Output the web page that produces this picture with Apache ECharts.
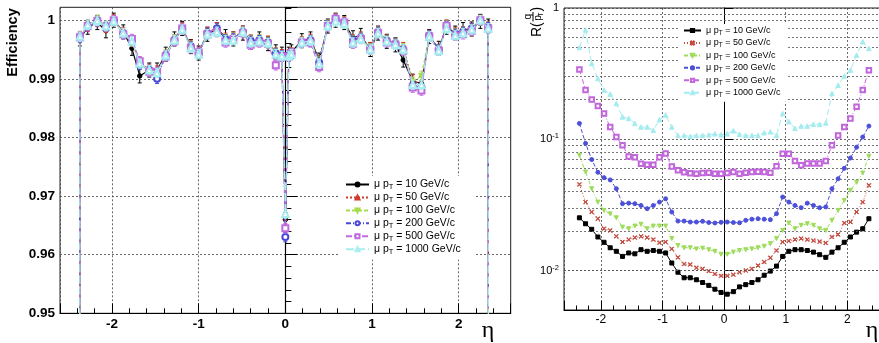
<!DOCTYPE html>
<html><head><meta charset="utf-8">
<script src="https://cdn.jsdelivr.net/npm/echarts@6/dist/echarts.min.js"></script>
<style>html,body{margin:0;padding:0;background:#fff}#c{width:879px;height:343px}</style>
</head><body><div id="c"></div>
<script>
// ---------- DATA ----------
const ptLabels = ['10', '50', '100', '200', '500', '1000'];

// Left panel: efficiency vs eta
const etaL = [-2.40, -2.37, -2.28, -2.17, -2.07, -1.98, -1.87, -1.77, -1.68, -1.57,
  -1.48, -1.38, -1.28, -1.19, -1.09, -1.00, -0.90, -0.79, -0.69, -0.60,
  -0.49, -0.40, -0.30, -0.20, -0.11, -0.04, 0.00, 0.04, 0.07, 0.19,
  0.29, 0.39, 0.49, 0.58, 0.68, 0.78, 0.87, 0.98, 1.07, 1.17,
  1.27, 1.36, 1.47, 1.57, 1.66, 1.77, 1.86, 1.96, 2.05, 2.15,
  2.25, 2.34, 2.40];
const effL10 = [0, 0.9968, 0.9988, 0.9996, 0.9982, 1.0000, 0.9980, 0.9952, 0.9905, 0.9915,
  0.9915, 0.9942, 0.9968, 0.9986, 0.9955, 0.9944, 0.9976, 0.9984, 0.9972, 0.9968,
  0.9978, 0.9962, 0.9968, 0.9960, 0.9946, 0.9942, 0.9660, 0.9942, 0.9946, 0.9965,
  0.9968, 0.9932, 0.9990, 1.0000, 0.9996, 0.9970, 0.9974, 0.9950, 0.9978, 0.9964,
  0.9958, 0.9932, 0.9896, 0.9892, 0.9972, 0.9952, 0.9988, 0.9978, 0.9984, 0.9985,
  0.9998, 0.9990, 0];
const effL50 = [0, 0.9972, 0.9990, 0.9998, 0.9988, 1.0001, 0.9979, 0.9964, 0.9928, 0.9916,
  0.9913, 0.9940, 0.9966, 0.9987, 0.9957, 0.9945, 0.9979, 0.9987, 0.9969, 0.9971,
  0.9981, 0.9966, 0.9966, 0.9964, 0.9944, 0.9941, 0.9650, 0.9941, 0.9944, 0.9963,
  0.9967, 0.9930, 0.9991, 1.0002, 0.9997, 0.9966, 0.9971, 0.9953, 0.9980, 0.9966,
  0.9960, 0.9953, 0.9898, 0.9888, 0.9974, 0.9950, 0.9991, 0.9979, 0.9980, 0.9986,
  1.0000, 0.9988, 0];
const effL100 = [0, 0.9970, 0.9991, 1.0001, 0.9990, 1.0000, 0.9978, 0.9966, 0.9925, 0.9914,
  0.9910, 0.9941, 0.9967, 0.9986, 0.9956, 0.9944, 0.9978, 0.9986, 0.9968, 0.9970,
  0.9980, 0.9966, 0.9967, 0.9963, 0.9944, 0.9940, 0.9640, 0.9940, 0.9944, 0.9963,
  0.9966, 0.9929, 0.9992, 1.0002, 0.9997, 0.9966, 0.9970, 0.9952, 0.9980, 0.9966,
  0.9961, 0.9952, 0.9895, 0.9905, 0.9974, 0.9950, 0.9991, 0.9978, 0.9980, 0.9986,
  1.0000, 0.9988, 0];
const effL200 = [0, 0.9970, 0.9990, 0.9998, 0.9990, 1.0000, 0.9977, 0.9966, 0.9924, 0.9915,
  0.9900, 0.9940, 0.9966, 0.9985, 0.9955, 0.9943, 0.9978, 0.9986, 0.9967, 0.9969,
  0.9980, 0.9965, 0.9966, 0.9962, 0.9943, 0.9940, 0.9630, 0.9940, 0.9943, 0.9962,
  0.9966, 0.9928, 0.9991, 1.0002, 0.9996, 0.9965, 0.9970, 0.9951, 0.9980, 0.9965,
  0.9960, 0.9950, 0.9888, 0.9885, 0.9974, 0.9950, 0.9990, 0.9977, 0.9980, 0.9986,
  1.0000, 0.9988, 0];
const effL500 = [0, 0.9971, 0.9990, 0.9998, 0.9989, 1.0000, 0.9976, 0.9968, 0.9930, 0.9912,
  0.9912, 0.9938, 0.9964, 0.9986, 0.9952, 0.9945, 0.9976, 0.9980, 0.9962, 0.9968,
  0.9978, 0.9958, 0.9962, 0.9960, 0.9923, 0.9938, 0.9645, 0.9938, 0.9944, 0.9962,
  0.9962, 0.9920, 0.9990, 1.0002, 0.9996, 0.9960, 0.9968, 0.9950, 0.9978, 0.9962,
  0.9958, 0.9948, 0.9885, 0.9880, 0.9972, 0.9948, 0.9990, 0.9974, 0.9976, 0.9982,
  1.0000, 0.9986, 0];
const effL1000 = [0, 0.9972, 0.9992, 0.9999, 0.9990, 0.9998, 0.9978, 0.9964, 0.9926, 0.9915,
  0.9910, 0.9940, 0.9966, 0.9984, 0.9953, 0.9942, 0.9976, 0.9980, 0.9966, 0.9966,
  0.9980, 0.9962, 0.9964, 0.9961, 0.9942, 0.9939, 0.9670, 0.9939, 0.9942, 0.9962,
  0.9965, 0.9926, 0.9990, 0.9998, 0.9994, 0.9962, 0.9968, 0.9950, 0.9978, 0.9964,
  0.9958, 0.9950, 0.9890, 0.9890, 0.9972, 0.9948, 0.9986, 0.9974, 0.9978, 0.9984,
  1.0000, 0.9986, 0];
// typical statistical error (half-width) per series
const errL = [0.0012, 0.0009, 0.0008, 0.0008, 0.0008, 0.0008];

// Right panel: resolution R(q/pT) vs eta (log scale)
const etaR = [-2.35, -2.25, -2.15, -2.05, -1.95, -1.85, -1.75, -1.65, -1.55, -1.45,
  -1.35, -1.25, -1.15, -1.05, -0.95, -0.85, -0.75, -0.65, -0.55, -0.45,
  -0.35, -0.25, -0.15, -0.05, 0.05, 0.15, 0.25, 0.35, 0.45, 0.55,
  0.65, 0.75, 0.85, 0.95, 1.05, 1.15, 1.25, 1.35, 1.45, 1.55,
  1.65, 1.75, 1.85, 1.95, 2.05, 2.15, 2.25, 2.35];
const resR10 = [0.0252, 0.0227, 0.0206, 0.0180, 0.0164, 0.0149, 0.0140, 0.0128, 0.0136, 0.0134,
  0.0144, 0.0140, 0.0142, 0.0140, 0.0136, 0.0114, 0.0097, 0.0088, 0.0088, 0.0085,
  0.0081, 0.0077, 0.0072, 0.0068, 0.0066, 0.0069, 0.0075, 0.0078, 0.0081, 0.0085,
  0.0092, 0.0099, 0.0108, 0.0128, 0.0140, 0.0144, 0.0144, 0.0142, 0.0138, 0.0132,
  0.0126, 0.0138, 0.0149, 0.0164, 0.0180, 0.0196, 0.0208, 0.0248];
const resR50 = [0.0453, 0.0332, 0.0279, 0.0248, 0.0208, 0.0202, 0.0182, 0.0165, 0.0172, 0.0178,
  0.0182, 0.0178, 0.0172, 0.0163, 0.0165, 0.0146, 0.0126, 0.0112, 0.0111, 0.0105,
  0.0103, 0.0099, 0.0094, 0.0091, 0.0091, 0.0093, 0.0097, 0.0100, 0.0103, 0.0109,
  0.0116, 0.0125, 0.0142, 0.0165, 0.0168, 0.0172, 0.0175, 0.0172, 0.0169, 0.0166,
  0.0162, 0.0180, 0.0188, 0.0230, 0.0234, 0.0279, 0.0332, 0.0446];
const resR100 = [0.0755, 0.0563, 0.0420, 0.0332, 0.0287, 0.0270, 0.0252, 0.0214, 0.0208, 0.0218,
  0.0225, 0.0208, 0.0218, 0.0218, 0.0218, 0.0175, 0.0155, 0.0149, 0.0149, 0.0146,
  0.0148, 0.0144, 0.0140, 0.0133, 0.0133, 0.0138, 0.0142, 0.0144, 0.0146, 0.0149,
  0.0153, 0.0160, 0.0175, 0.0202, 0.0230, 0.0208, 0.0221, 0.0227, 0.0221, 0.0208,
  0.0202, 0.0241, 0.0287, 0.0342, 0.0408, 0.0470, 0.0553, 0.0742];
const resR200 = [0.132, 0.093, 0.070, 0.056, 0.051, 0.049, 0.042, 0.0323, 0.0326, 0.0323,
  0.0313, 0.0296, 0.0313, 0.0332, 0.0352, 0.0279, 0.0238, 0.0238, 0.0234, 0.0234,
  0.0237, 0.0232, 0.0230, 0.0233, 0.0234, 0.0232, 0.0231, 0.0241, 0.0246, 0.0248,
  0.0246, 0.0244, 0.0271, 0.0363, 0.0332, 0.0313, 0.0301, 0.0326, 0.0313, 0.0301,
  0.0305, 0.0420, 0.0500, 0.0600, 0.0720, 0.0870, 0.104, 0.126];
const resR500 = [0.340, 0.237, 0.201, 0.179, 0.157, 0.124, 0.104, 0.090, 0.074, 0.073,
  0.065, 0.064, 0.064, 0.073, 0.078, 0.062, 0.058, 0.056, 0.055, 0.0547,
  0.0553, 0.0556, 0.0547, 0.0545, 0.0553, 0.0563, 0.0547, 0.0556, 0.0563, 0.0566,
  0.0563, 0.0556, 0.0622, 0.0777, 0.0777, 0.0684, 0.0633, 0.0652, 0.0652, 0.0652,
  0.0683, 0.090, 0.107, 0.124, 0.144, 0.177, 0.237, 0.336];
const resR1000 = [0.50, 0.68, 0.378, 0.290, 0.237, 0.221, 0.187, 0.148, 0.144, 0.132,
  0.124, 0.124, 0.117, 0.141, 0.153, 0.124, 0.107, 0.107, 0.105, 0.107,
  0.107, 0.108, 0.110, 0.108, 0.110, 0.116, 0.109, 0.107, 0.107, 0.107,
  0.112, 0.114, 0.107, 0.157, 0.136, 0.121, 0.126, 0.126, 0.130, 0.130,
  0.133, 0.223, 0.258, 0.303, 0.336, 0.438, 0.553, 0.492];
const rMinorGrid = [0.006, 0.007, 0.008, 0.009, 0.02, 0.03, 0.04, 0.05, 0.06, 0.07, 0.08, 0.09,
  0.2, 0.3, 0.4, 0.5, 0.6, 0.7, 0.8, 0.9];

// ---------- STYLE ----------
const effL = [effL10, effL50, effL100, effL200, effL500, effL1000];
const resR = [resR10, resR50, resR100, resR200, resR500, resR1000];
const colL = ['#000000', '#d0392b', '#a8dc48', '#4848d8', '#c06ae0', '#a6eef0'];
const colR = ['#000000', '#c44a3e', '#9edc5c', '#4c50d8', '#c266dc', '#a4ecf0'];
const symL = ['circle', 'triangle', 'triangle', 'emptyCircle', 'emptyRect', 'emptyTriangle'];
const rotL = [0, 0, 180, 0, 0, 0];
const sizeL = [4.5, 5.5, 5.5, 6, 6, 6.5];
const dashL = ['solid', [2, 2], [4, 2], [5, 2, 1, 2], [6, 2], [8, 3]];
const xPath = 'path://M0,1L1,0L5,4L9,0L10,1L6,5L10,9L9,10L5,6L1,10L0,9L4,5Z';
const symR = ['rect', xPath, 'triangle', 'circle', 'emptyRect', 'triangle'];
const rotR = [0, 0, 180, 0, 0, 0];
const sizeR = [4, 4, 4, 4, 4.5, 4.5];
const dashR = ['solid', [1, 2], [4, 2, 1, 2], [4, 2], [5, 2, 1, 2], [6, 3]];
const FF = '"Liberation Sans", Arial, sans-serif';

const series = [];
for (let k = 0; k < 6; k++) {
  series.push({
    type: 'line', name: 'L' + k, xAxisIndex: 0, yAxisIndex: 0,
    data: etaL.map((e, i) => [e, effL[k][i]]),
    symbol: symL[k], symbolSize: sizeL[k], symbolRotate: rotL[k], showAllSymbol: true,
    lineStyle: { color: colL[k], width: 1.2, type: dashL[k] },
    itemStyle: { color: colL[k], borderColor: colL[k], borderWidth: 1 },
    clip: true, z: 3 + k, silent: true
  });
}
for (let k = 0; k < 6; k++) {
  series.push({
    type: 'custom', name: 'E' + k, xAxisIndex: 0, yAxisIndex: 0, clip: true, silent: true, z: 3 + k,
    data: etaL.map((e, i) => [e, effL[k][i], errL[k]]).filter(d => d[1] > 0.5),
    encode: { x: 0, y: 1 },
    renderItem: (params, api) => {
      const x = api.value(0), v = api.value(1), er = api.value(2);
      const a = api.coord([x, v - er]), b = api.coord([x, v + er]);
      const st = { stroke: colL[k], lineWidth: 1 };
      return { type: 'group', children: [
        { type: 'line', shape: { x1: a[0], y1: a[1], x2: b[0], y2: b[1] }, style: st },
        { type: 'line', shape: { x1: a[0] - 2, y1: a[1], x2: a[0] + 2, y2: a[1] }, style: st },
        { type: 'line', shape: { x1: b[0] - 2, y1: b[1], x2: b[0] + 2, y2: b[1] }, style: st }
      ] };
    }
  });
}
for (let k = 0; k < 6; k++) {
  const s = {
    type: 'line', name: 'R' + k, xAxisIndex: 1, yAxisIndex: 1,
    data: etaR.map((e, i) => [e, resR[k][i]]),
    symbol: symR[k], symbolSize: sizeR[k], symbolRotate: rotR[k], showAllSymbol: true,
    lineStyle: { color: colR[k], width: 1, type: dashR[k] },
    itemStyle: { color: colR[k], borderColor: colR[k], borderWidth: 1 },
    clip: true, z: 3 + k, silent: true
  };
  if (k === 0) {
    s.markLine = {
      silent: true, symbol: ['none', 'none'], label: { show: false }, animation: false,
      lineStyle: { color: '#555', width: 0.8, type: [2, 2] },
      data: rMinorGrid.map(v => ({ yAxis: v }))
    };
  }
  series.push(s);
}

const intFmt = v => Math.abs(v - Math.round(v)) < 1e-7 ? String(Math.round(v)) : '';
const gridLine = { show: true, lineStyle: { color: '#444', width: 0.8, type: [2, 2] } };

const legendRich = (fs, lh, sfs) => ({
  a: { fontSize: fs, lineHeight: lh, fontFamily: FF, color: '#000' },
  s: { fontSize: sfs, lineHeight: 3, verticalAlign: 'bottom', fontFamily: FF, color: '#000' }
});

const option = {
  animation: false,
  backgroundColor: '#fff',
  grid: [
    { left: 60, top: 7.3, width: 450.7, height: 306, show: true, borderColor: '#222', borderWidth: 1, outerBoundsMode: 'none', containLabel: false },
    { left: 564, top: 8, width: 320.3, height: 302, show: true, borderColor: '#222', borderWidth: 1, outerBoundsMode: 'none', containLabel: false }
  ],
  xAxis: [
    { type: 'value', gridIndex: 0, min: -2.6, max: 2.6, splitNumber: 5,
      axisLine: { lineStyle: { color: '#000', width: 1.2 } },
      axisTick: { inside: true, length: 10, lineStyle: { color: '#000' } },
      minorTick: { show: true, splitNumber: 5, length: 5, lineStyle: { color: '#000' } },
      axisLabel: { formatter: intFmt, color: '#000', fontSize: 13.5, fontWeight: 'bold', fontFamily: FF, margin: 4 },
      splitLine: gridLine },
    { type: 'value', gridIndex: 1, min: -2.6, max: 2.6, splitNumber: 5,
      axisLine: { lineStyle: { color: '#000', width: 1 } },
      axisTick: { inside: true, length: 9, lineStyle: { color: '#000' } },
      minorTick: { show: true, splitNumber: 5, length: 4.5, lineStyle: { color: '#000' } },
      axisLabel: { formatter: intFmt, color: '#000', fontSize: 12, fontFamily: FF, margin: 4 },
      splitLine: gridLine }
  ],
  yAxis: [
    { type: 'value', gridIndex: 0, min: 0.95, max: 1.0022, splitNumber: 5,
      axisLine: { lineStyle: { color: '#000', width: 1.2 } },
      axisTick: { inside: true, length: 12, lineStyle: { color: '#000' } },
      minorTick: { show: true, splitNumber: 5, length: 6, lineStyle: { color: '#000' } },
      axisLabel: { color: '#000', fontSize: 13.5, fontWeight: 'bold', fontFamily: FF, margin: 5,
        formatter: v => { const r = Math.round(v * 100) / 100; if (Math.abs(v - r) > 1e-7) return ''; return r === 1 ? '1' : r.toFixed(2); } },
      splitLine: gridLine },
    { type: 'log', gridIndex: 1, min: 0.005, max: 1, logBase: 10,
      axisLine: { lineStyle: { color: '#000', width: 1 } },
      axisTick: { inside: true, length: 9, lineStyle: { color: '#000' } },
      axisLabel: { color: '#000', fontFamily: FF, margin: 5,
        formatter: v => {
          const l = Math.log10(v), e = Math.round(l);
          if (Math.abs(l - e) > 1e-6) return '';
          if (e === 0) return '{b|1}';
          return '{b|10}{s|' + e + '}';
        },
        rich: { b: { fontSize: 11, lineHeight: 14, fontFamily: FF, color: '#000' },
                s: { fontSize: 7.5, lineHeight: 6, verticalAlign: 'top', fontFamily: FF, color: '#000' } } },
      splitLine: gridLine }
  ],
  legend: [
    { data: ['L0', 'L1', 'L2', 'L3', 'L4', 'L5'], orient: 'vertical', left: 340, top: 176,
      itemWidth: 23, itemHeight: 5, itemGap: 1.2, padding: [3, 14, 4, 5], backgroundColor: '#fff',
      selectedMode: false, z: 10,
      formatter: n => '{a|μ p}{s|T}{a| = ' + ptLabels[+n.slice(1)] + ' GeV/c}',
      textStyle: { fontSize: 10.5, fontFamily: FF, color: '#000', rich: legendRich(10.5, 12.5, 7.5) } },
    { data: ['R0', 'R1', 'R2', 'R3', 'R4', 'R5'], orient: 'vertical', left: 680, top: 24,
      itemWidth: 17, itemHeight: 4, itemGap: 1.9, padding: [2, 6, 3, 3], backgroundColor: '#fff',
      selectedMode: false, z: 10,
      formatter: n => '{a|μ p}{s|T}{a| = ' + ptLabels[+n.slice(1)] + ' GeV/c}',
      textStyle: { fontSize: 9, fontFamily: FF, color: '#000', rich: legendRich(9, 12.1, 6.5) } }
  ],
  graphic: [
    { type: 'text', x: 12.5, y: 42.5, rotation: Math.PI / 2, z: 20,
      style: { text: 'Efficiency', fontSize: 14.5, fontWeight: 'bold', fontFamily: FF, fill: '#000', align: 'center', verticalAlign: 'middle' } },
    { type: 'text', x: 488, y: 331, z: 20,
      style: { text: 'η', fontSize: 24, fontFamily: '"Liberation Serif", serif', fill: '#000', align: 'center', verticalAlign: 'middle' } },
    { type: 'text', x: 872, y: 331, z: 20,
      style: { text: 'η', fontSize: 24, fontFamily: '"Liberation Serif", serif', fill: '#000', align: 'center', verticalAlign: 'middle' } },
    { type: 'group', x: 533, y: 37, rotation: Math.PI / 2, z: 20, children: [
      { type: 'text', x: 0, y: 4, style: { text: 'R(', fontSize: 14, fontFamily: FF, fill: '#000', align: 'left', verticalAlign: 'middle' } },
      { type: 'line', shape: { x1: 15.5, y1: 0, x2: 25, y2: 0 }, style: { stroke: '#000', lineWidth: 1 } },
      { type: 'text', x: 20.3, y: -4.5, style: { text: 'q', fontSize: 10, fontFamily: FF, fill: '#000', align: 'center', verticalAlign: 'middle' } },
      { type: 'text', x: 19, y: 5, style: { text: 'p', fontSize: 10, fontFamily: FF, fill: '#000', align: 'center', verticalAlign: 'middle' } },
      { type: 'text', x: 22.5, y: 8.5, style: { text: 'T', fontSize: 7, fontFamily: FF, fill: '#000', align: 'center', verticalAlign: 'middle' } },
      { type: 'text', x: 25.5, y: 4, style: { text: ')', fontSize: 14, fontFamily: FF, fill: '#000', align: 'left', verticalAlign: 'middle' } }
    ] }
  ],
  series: series
};

const chart = echarts.init(document.getElementById('c'), null, { renderer: 'canvas' });
chart.setOption(option);
</script>
</body></html>
